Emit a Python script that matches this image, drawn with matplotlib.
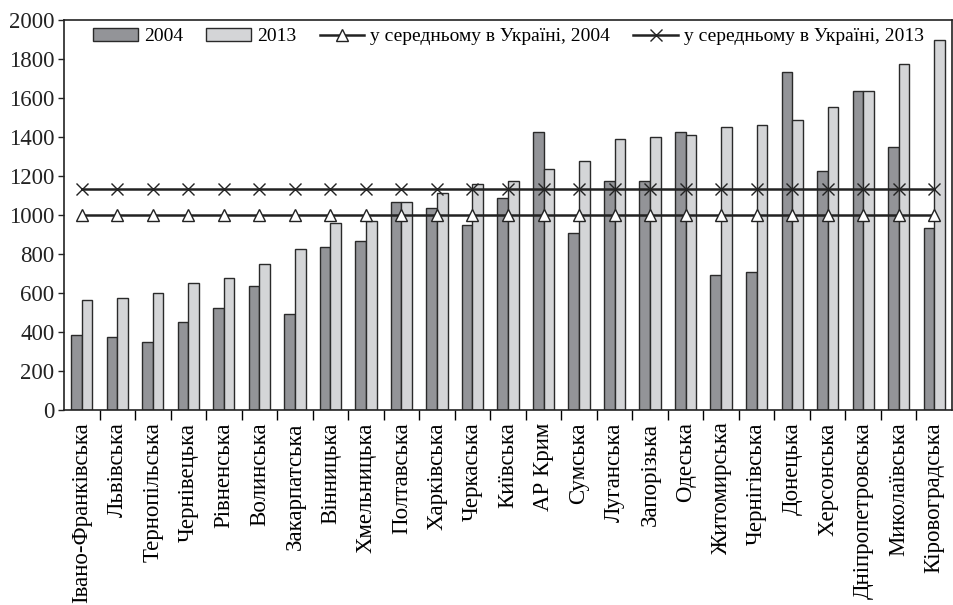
import matplotlib.pyplot as plt
import numpy as np

plt.rcParams['font.family'] = ['Liberation Serif', 'DejaVu Serif']

regions = ['Івано-Франківська', 'Львівська', 'Тернопільська', 'Чернівецька', 'Рівненська',
           'Волинська', 'Закарпатська', 'Вінницька', 'Хмельницька', 'Полтавська',
           'Харківська', 'Черкаська', 'Київська', 'АР Крим', 'Сумська', 'Луганська',
           'Запорізька', 'Одеська', 'Житомирська', 'Чернігівська', 'Донецька',
           'Херсонська', 'Дніпропетровська', 'Миколаївська', 'Кіровоградська']
v2004 = [385, 375, 350, 450, 525, 635, 490, 835, 865, 1065, 1035, 950, 1085, 1425, 910,
         1175, 1175, 1425, 690, 710, 1735, 1225, 1635, 1350, 935]
v2013 = [565, 575, 600, 650, 675, 750, 825, 960, 970, 1065, 1115, 1160, 1175, 1235, 1275,
         1390, 1400, 1410, 1450, 1460, 1485, 1555, 1635, 1775, 1900]
avg2004 = 1000
avg2013 = 1133

fig = plt.figure(figsize=(9.54, 6.05), dpi=100)
ax = fig.add_axes([64 / 954, 1 - 410 / 605, 888 / 954, 390 / 605])

x = np.arange(len(regions))
w = 0.3
b1 = ax.bar(x - w / 2, v2004, w, color='#939498', edgecolor='#2a2a2a', linewidth=1, label='2004', zorder=2)
b2 = ax.bar(x + w / 2, v2013, w, color='#d4d5d7', edgecolor='#2a2a2a', linewidth=1, label='2013', zorder=2)
l1, = ax.plot(x, [avg2004] * len(x), color='#222222', lw=1.8, marker='^', ms=8,
              mfc='white', mec='#222222', mew=1, label='у середньому в Україні, 2004', zorder=3)
l2, = ax.plot(x, [avg2013] * len(x), color='#222222', lw=1.8, marker='x', ms=8,
              mec='#222222', mew=1, label='у середньому в Україні, 2013', zorder=3)

ax.set_xlim(-0.5, len(regions) - 0.5)
ax.set_ylim(0, 2000)
ax.set_yticks(range(0, 2001, 200))
ax.tick_params(axis='y', labelsize=16.5, direction='out', length=4, width=1, colors='#222222', pad=3)
ax.set_xticks(x)
ax.set_xticklabels(regions, rotation=90, fontsize=16.5)
ax.tick_params(axis='x', which='major', length=0, pad=9)
ax.set_xticks(np.arange(0.5, len(regions) - 0.5, 1), minor=True)
ax.tick_params(axis='x', which='minor', length=7, width=1, direction='out')

for s in ax.spines.values():
    s.set_color('#222222')
    s.set_linewidth(1.2)

ax.legend([b1, b2, l1, l2], ['2004', '2013', 'у середньому в Україні, 2004', 'у середньому в Україні, 2013'],
          loc='upper left', bbox_to_anchor=(0.02, 1.01), ncol=4, frameon=False, fontsize=14,
          handlelength=2.3, handletextpad=0.3, columnspacing=1.2, borderaxespad=0.2)

fig.savefig('out.png', dpi=100)
